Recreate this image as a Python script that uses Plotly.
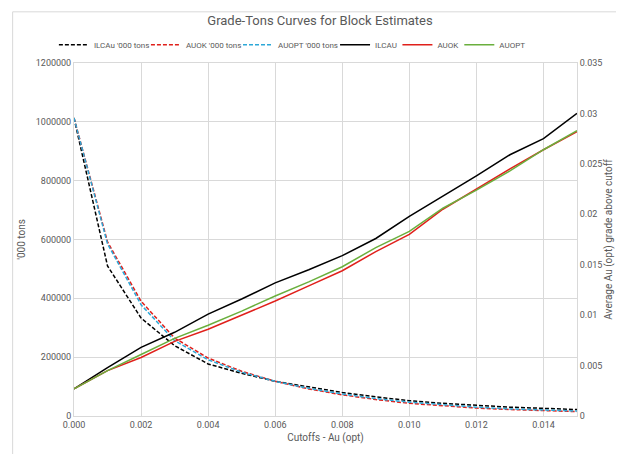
import plotly.graph_objects as go

# cutoff grades (Au opt)
cutoffs = [0.000, 0.001, 0.002, 0.003, 0.004, 0.005, 0.006, 0.007,
           0.008, 0.009, 0.010, 0.011, 0.012, 0.013, 0.014, 0.015]

# tonnage above cutoff ('000 tons)
ilcau_tons = [1013000, 510000, 333000, 239000, 177000, 145000, 118000, 98000,
              80000, 65000, 52000, 43000, 36000, 30000, 26000, 22000]
auok_tons = [1013000, 592000, 390000, 265000, 197000, 152000, 118000, 92000,
             72000, 56000, 43000, 34000, 27000, 22000, 18000, 15000]
auopt_tons = [1013000, 585000, 378000, 256000, 191000, 149000, 118000, 94000,
              75000, 59000, 47000, 38000, 30000, 24000, 20000, 17000]

# average grade above cutoff
ilcau_grade = [0.0027, 0.0048, 0.0068, 0.0083, 0.0101, 0.0116, 0.0132, 0.0145,
               0.0159, 0.0176, 0.0198, 0.0218, 0.0238, 0.0259, 0.0275, 0.0300]
auok_grade = [0.0027, 0.0045, 0.0058, 0.0074, 0.0086, 0.0100, 0.0114, 0.0129,
              0.0144, 0.0163, 0.0180, 0.0205, 0.0225, 0.0245, 0.0264, 0.0282]
auopt_grade = [0.0027, 0.0045, 0.0061, 0.0077, 0.0090, 0.0104, 0.0119, 0.0133,
               0.0148, 0.0167, 0.0183, 0.0206, 0.0224, 0.0243, 0.0264, 0.0283]

BLACK = "#000000"
RED = "#E0201B"
BLUE = "#2CA8D8"
GREEN = "#6AAF3D"
TEXT = "#595959"
GRID = "#d9d9d9"

# one legend per entry so the whole row fits on one line
LEGEND_X = [-0.040, 0.143, 0.326, 0.519, 0.643, 0.766]

series = [
    ("ILCAu '000 tons", ilcau_tons, BLACK, "y", True),
    ("AUOK '000 tons", auok_tons, RED, "y", True),
    ("AUOPT '000 tons", auopt_tons, BLUE, "y", True),
    ("ILCAU", ilcau_grade, BLACK, "y2", False),
    ("AUOK", auok_grade, RED, "y2", False),
    ("AUOPT", auopt_grade, GREEN, "y2", False),
]

fig = go.Figure()
legends = {}
for i, (name, vals, color, axis, dashed) in enumerate(series):
    lg = "legend" if i == 0 else f"legend{i + 1}"
    fig.add_trace(go.Scatter(
        x=cutoffs, y=vals, name=name, mode="lines", yaxis=axis, legend=lg,
        line=dict(color=color, width=1.5, dash="4px,2px" if dashed else "solid"),
    ))
    legends[lg] = dict(
        orientation="h", x=LEGEND_X[i], xanchor="left", y=1.052,
        yanchor="middle", font=dict(size=8, color=TEXT),
        bgcolor="rgba(0,0,0,0)", itemwidth=30,
    )

fig.update_layout(
    width=624, height=454,
    margin=dict(l=66, r=55, t=55, b=46),
    paper_bgcolor="white", plot_bgcolor="white",
    font=dict(family="Roboto, sans-serif", color=TEXT, size=9),
    title=dict(text="Grade-Tons Curves for Block Estimates",
               x=0.5, xanchor="center", y=0.972, yanchor="middle",
               font=dict(size=13, color=TEXT)),
    showlegend=True,
    xaxis=dict(range=[0, 0.015], dtick=0.002, tick0=0, tickformat=".3f",
               showgrid=True, gridcolor=GRID, zeroline=False,
               showline=True, linecolor=GRID, mirror=True,
               ticks="", tickfont=dict(size=9, color=TEXT),
               title=dict(text="Cutoffs - Au (opt)", standoff=5,
                          font=dict(size=10, color=TEXT))),
    yaxis=dict(range=[0, 1200000], dtick=200000, tickformat="d",
               showgrid=True, gridcolor=GRID, zeroline=False,
               showline=True, linecolor=GRID,
               ticks="", tickfont=dict(size=9, color=TEXT),
               title=dict(text="'000 tons", standoff=8,
                          font=dict(size=10, color=TEXT))),
    yaxis2=dict(range=[0, 0.035], dtick=0.005, overlaying="y", side="right",
                showgrid=False, zeroline=False, showline=True, linecolor=GRID,
                ticks="", tickfont=dict(size=9, color=TEXT),
                title=dict(text="Average Au (opt) grade above cutoff", standoff=3,
                           font=dict(size=10, color=TEXT))),
    shapes=[dict(type="rect", xref="paper", yref="paper",
                 x0=-0.122, x1=1.096, y0=-0.125, y1=1.145,
                 line=dict(color=GRID, width=1))],
    **legends,
)

fig.write_html("out.html")
